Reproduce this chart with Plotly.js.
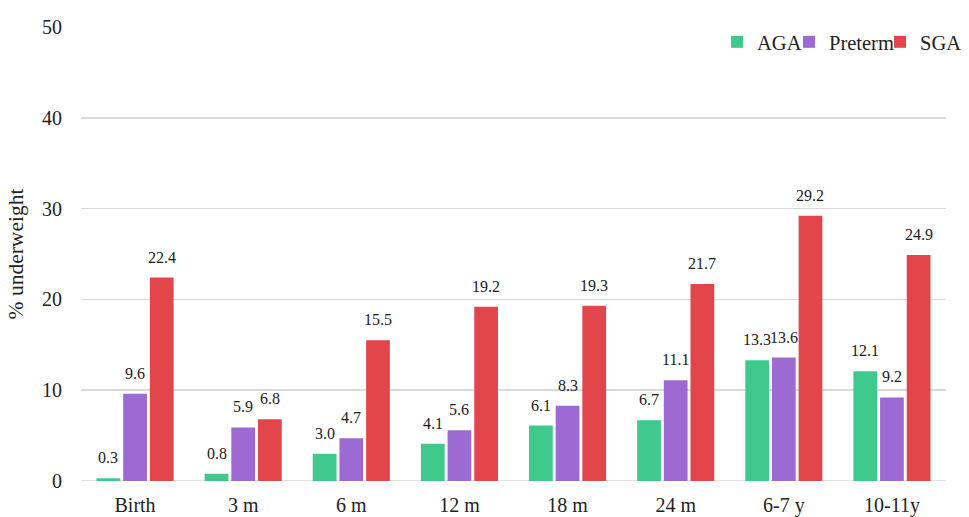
<!DOCTYPE html>
<html>
<head>
<meta charset="utf-8">
<script src="https://cdn.plot.ly/plotly-3.0.1.min.js"></script>
<style>html,body{margin:0;padding:0;background:#fff}#chart{width:969px;height:517px}</style>
</head>
<body>
<div id="chart"></div>
<script>
const categories = ["Birth", "3 m", "6 m", "12 m", "18 m", "24 m", "6-7 y", "10-11y"];
const agaValues = [0.3, 0.8, 3.0, 4.1, 6.1, 6.7, 13.3, 12.1];
const pretermValues = [9.6, 5.9, 4.7, 5.6, 8.3, 11.1, 13.6, 9.2];
const sgaValues = [22.4, 6.8, 15.5, 19.2, 19.3, 21.7, 29.2, 24.9];
const yTicks = [0, 10, 20, 30, 40, 50];

const font = "Liberation Serif";
const bargap = 0.26;
const M = {l: 81, r: 23, t: 27, b: 36};
function series(name, vals, color, legendId) {
  return {
    type: "bar", name: name, x: categories, y: vals,
    marker: {color: color}, legend: legendId,
    hoverinfo: "none"
  };
}
const seriesVals = [agaValues, pretermValues, sgaValues];
const data = [
  series("AGA", agaValues, "#3fc98c", "legend"),
  series("Preterm", pretermValues, "#9c6ad2", "legend2"),
  series("SGA", sgaValues, "#e2464b", "legend3")
];
// value labels above each bar
const plotW = 969 - M.l - M.r;
const slotPx = plotW / categories.length * (1 - bargap) / 3;
const annotations = [];
seriesVals.forEach((vals, si) => {
  vals.forEach((v, ci) => {
    annotations.push({
      x: categories[ci], y: v, xref: "x", yref: "y",
      text: v.toFixed(1), showarrow: false, yanchor: "bottom",
      xshift: (si - 1) * slotPx, yshift: 10,
      font: {family: font, size: 16, color: "#1a1a1a"}
    });
  });
});
function leg(x) {
  return {orientation: "h", x: x, xanchor: "left", y: 0.967, yanchor: "middle",
          font: {family: font, size: 20.5, color: "#222"}, bgcolor: "rgba(0,0,0,0)"};
}
const layout = {
  width: 969, height: 517,
  margin: {l: M.l, r: M.r, t: M.t, b: M.b, autoexpand: false},
  paper_bgcolor: "#fff", plot_bgcolor: "#fff",
  barmode: "group", bargap: bargap, bargroupgap: 0.11,
  font: {family: font, color: "#222"},
  showlegend: true,
  legend: leg(0.7353), legend2: leg(0.8185), legend3: leg(0.9237),
  annotations: annotations,
  shapes: [{type: "line", xref: "paper", x0: 0, x1: 1, yref: "y", y0: 0, y1: 0,
            line: {color: "#d9d9d9", width: 1.5}, layer: "below"}],
  xaxis: {showgrid: false, showline: false, ticks: "", ticklabelstandoff: 10,
          tickfont: {family: font, size: 20, color: "#222"}},
  yaxis: {range: [0, 50], tickvals: yTicks, showgrid: true, gridcolor: "#d9d9d9", gridwidth: 1.5,
          zeroline: false, showline: false, ticks: "", ticklabelstandoff: 18,
          tickfont: {family: font, size: 20, color: "#222"},
          title: {text: "% underweight", font: {family: font, size: 21.5, color: "#222"}, standoff: 12}}
};
Plotly.newPlot("chart", data, layout, {displayModeBar: false, staticPlot: true});
</script>
</body>
</html>
